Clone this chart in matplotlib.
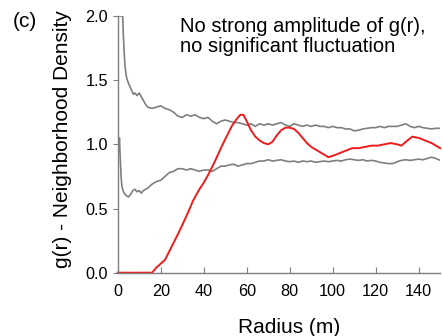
import matplotlib
matplotlib.use("Agg")
import matplotlib.pyplot as plt

plt.rcParams['font.family'] = ['Liberation Sans', 'DejaVu Sans']

# upper envelope (gray)
upper_r = [0, 2.3, 2.6, 3.0, 3.4, 4.0, 4.9, 5.7, 6.5, 7.3, 8, 9, 10, 11, 12, 13,
           14, 16, 18, 20, 22, 24, 26, 28, 30, 32, 34, 36, 38, 40, 42, 44, 46, 48,
           50, 52, 54, 56, 58, 60, 62, 64, 66, 68, 70, 72, 74, 76, 78, 80, 82, 84,
           86, 88, 90, 92, 94, 96, 98, 100, 102, 104, 106, 108, 110, 112, 114, 116,
           118, 120, 122, 124, 126, 128, 130, 132, 134, 136, 138, 140, 142, 144,
           146, 148, 150]
upper_g = [2.0, 2.0, 1.86, 1.72, 1.61, 1.53, 1.48, 1.45, 1.42, 1.39, 1.40, 1.38,
           1.40, 1.37, 1.34, 1.31, 1.29, 1.28, 1.29, 1.30, 1.28, 1.27, 1.25, 1.22,
           1.21, 1.23, 1.22, 1.23, 1.21, 1.20, 1.21, 1.18, 1.16, 1.18, 1.19, 1.18,
           1.17, 1.17, 1.16, 1.15, 1.16, 1.14, 1.16, 1.15, 1.16, 1.15, 1.16, 1.17,
           1.15, 1.14, 1.16, 1.15, 1.14, 1.15, 1.14, 1.15, 1.14, 1.14, 1.13, 1.14,
           1.13, 1.13, 1.12, 1.12, 1.105, 1.11, 1.12, 1.125, 1.13, 1.13, 1.14, 1.13,
           1.14, 1.14, 1.14, 1.15, 1.16, 1.14, 1.13, 1.14, 1.13, 1.125, 1.12, 1.125,
           1.125]

# lower envelope (gray)
lower_r = [0.5, 0.8, 1.2, 1.6, 2.0, 2.5, 3.0, 3.5, 4.0, 5.0, 6.0, 7.0, 8, 9, 10,
           11, 12, 14, 16, 18, 20, 22, 24, 26, 28, 30, 32, 34, 36, 38, 40, 42, 44,
           46, 48, 50, 52, 54, 56, 58, 60, 62, 64, 66, 68, 70, 72, 74, 76, 78, 80,
           82, 84, 86, 88, 90, 92, 94, 96, 98, 100, 102, 104, 106, 108, 110, 112,
           114, 116, 118, 120, 122, 124, 126, 128, 130, 132, 134, 136, 138, 140,
           142, 144, 146, 148, 150]
lower_g = [0.95, 1.05, 0.88, 0.74, 0.67, 0.64, 0.62, 0.61, 0.60, 0.59, 0.61, 0.64,
           0.65, 0.63, 0.64, 0.62, 0.64, 0.66, 0.69, 0.71, 0.72, 0.75, 0.78, 0.79,
           0.81, 0.81, 0.80, 0.81, 0.80, 0.79, 0.80, 0.80, 0.79, 0.81, 0.83, 0.83,
           0.84, 0.845, 0.83, 0.84, 0.85, 0.85, 0.86, 0.87, 0.87, 0.88, 0.87, 0.875,
           0.88, 0.87, 0.865, 0.87, 0.86, 0.87, 0.865, 0.87, 0.86, 0.865, 0.87,
           0.865, 0.87, 0.875, 0.87, 0.88, 0.885, 0.88, 0.875, 0.88, 0.87, 0.875,
           0.87, 0.86, 0.855, 0.85, 0.85, 0.865, 0.875, 0.88, 0.875, 0.88, 0.885,
           0.88, 0.89, 0.90, 0.89, 0.875]

# observed g(r) (red)
obs_r = [0, 16, 18, 20, 22, 25, 28, 30, 33, 35, 38, 40, 42, 45, 48, 50, 53, 55, 57,
         58.5, 60, 62, 64, 66, 68, 70, 72, 74, 76, 78, 80, 82, 84, 86, 88, 90, 93,
         96, 98, 100, 103, 106, 109, 112, 115, 118, 121, 124, 127, 130, 132, 134,
         137, 140, 143, 146, 150]
obs_g = [0, 0, 0.04, 0.07, 0.10, 0.20, 0.30, 0.37, 0.48, 0.56, 0.65, 0.70, 0.76,
         0.86, 0.97, 1.04, 1.14, 1.19, 1.23, 1.23, 1.18, 1.11, 1.06, 1.03, 1.01,
         1.00, 1.02, 1.07, 1.11, 1.13, 1.13, 1.12, 1.09, 1.05, 1.01, 0.98, 0.95,
         0.92, 0.90, 0.91, 0.93, 0.95, 0.97, 0.97, 0.98, 0.99, 0.99, 1.00, 1.01,
         1.00, 0.99, 1.02, 1.06, 1.05, 1.03, 1.01, 0.97]

x_ticks = [0, 20, 40, 60, 80, 100, 120, 140]
y_ticks = [0.0, 0.5, 1.0, 1.5, 2.0]

fig = plt.figure(figsize=(4.43, 3.36), dpi=100)
ax = fig.add_axes([0.2657, 0.1884, 0.7280, 0.7640])

ax.plot(upper_r, upper_g, color='#7f7f7f', lw=1.2)
ax.plot(lower_r, lower_g, color='#7f7f7f', lw=1.2)
ax.plot(obs_r, obs_g, color='#ee1c1c', lw=1.4, clip_on=False)

ax.set_xlim(0, 150)
ax.set_ylim(0, 2.0)
ax.set_xticks(x_ticks)
ax.set_yticks(y_ticks)
ax.set_yticklabels([f"{v:.1f}" for v in y_ticks])

for s in ['top', 'right']:
    ax.spines[s].set_visible(False)
for s in ['left', 'bottom']:
    ax.spines[s].set_color('#7f7f7f')
    ax.spines[s].set_linewidth(1.0)

ax.tick_params(axis='x', direction='in', length=4, color='#7f7f7f',
               labelsize=11.7, pad=8)
ax.tick_params(axis='y', direction='out', length=3.5, color='#7f7f7f',
               labelsize=11.7, pad=3.5)

ax.set_xlabel('Radius (m)', fontsize=15)
ax.xaxis.set_label_coords(0.53, -0.176)
ax.set_ylabel('g(r) - Neighborhood Density', fontsize=15)
ax.yaxis.set_label_coords(-0.142, 0.52)

fig.text(180 / 443, 1 - 17 / 336,
         'No strong amplitude of g(r),\nno significant fluctuation',
         fontsize=14.5, ha='left', va='top', linespacing=1.1)
fig.text(13 / 443, 1 - 12 / 336, '(c)', fontsize=15, ha='left', va='top')

fig.savefig('out.png', dpi=100)
